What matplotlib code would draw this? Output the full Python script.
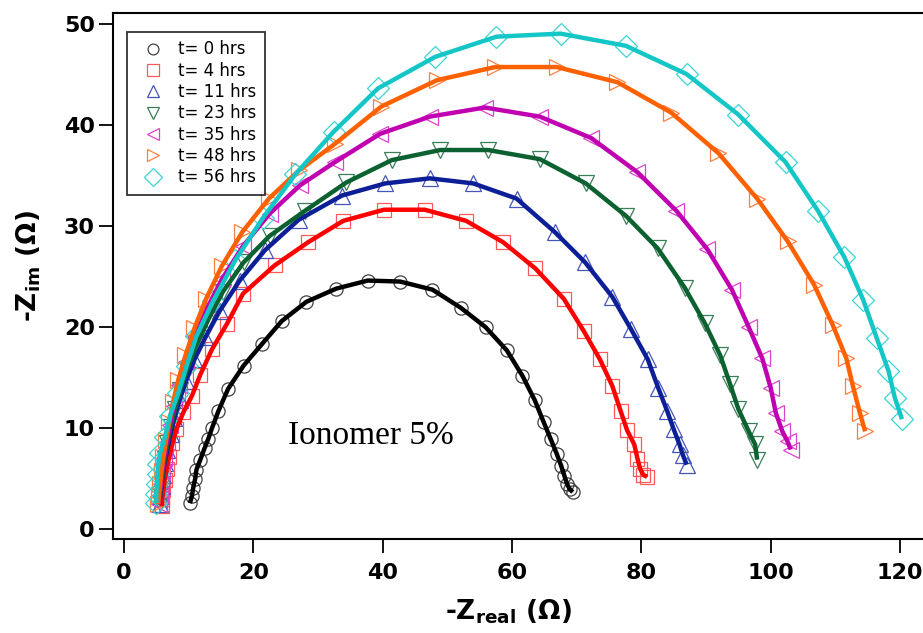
import matplotlib
matplotlib.use("Agg")
import matplotlib.pyplot as plt

plt.rcParams['font.family'] = ['DejaVu Sans']
plt.rcParams['mathtext.fontset'] = 'dejavusans'

labels = ["t= 0 hrs", "t= 4 hrs", "t= 11 hrs", "t= 23 hrs", "t= 35 hrs", "t= 48 hrs", "t= 56 hrs"]

x0 = [10.2, 10.5, 10.7, 11.0, 11.2, 11.8, 12.5, 13.0, 13.6, 14.6, 16.1, 18.5, 21.3, 24.4, 28.2, 32.8, 37.7,
      42.7, 47.7, 52.1, 55.9, 59.2, 61.6, 63.5, 64.9, 66.0, 66.9, 67.6, 68.1, 68.5, 68.9, 69.4]
y0 = [2.6, 3.3, 4.1, 5.0, 5.9, 6.9, 8.1, 8.9, 10.0, 11.7, 13.9, 16.2, 18.3, 20.6, 22.5, 23.8, 24.6,
      24.5, 23.7, 21.9, 20.0, 17.7, 15.2, 12.8, 10.6, 8.9, 7.5, 6.3, 5.3, 4.5, 4.0, 3.7]

x4 = [5.8, 5.9, 6.1, 6.3, 6.6, 7.0, 7.5, 8.1, 9.2, 10.5, 11.8, 13.6, 15.9, 18.4, 23.3, 28.5, 33.9, 40.2,
      46.5, 52.9, 58.6, 63.6, 68.0, 71.1, 73.6, 75.5, 76.8, 77.8, 78.9, 79.4, 79.8, 80.3, 80.9]
y4 = [2.3, 3.0, 3.9, 4.9, 6.0, 7.2, 8.5, 9.9, 11.6, 13.2, 15.3, 17.8, 20.3, 23.3, 26.1, 28.4, 30.5, 31.6,
      31.6, 30.5, 28.4, 25.8, 22.8, 19.6, 16.8, 14.2, 11.7, 9.8, 8.4, 7.0, 6.0, 5.4, 5.2]

x11 = [5.5, 5.6, 5.8, 6.0, 6.3, 6.7, 7.2, 7.8, 8.6, 9.6, 10.9, 12.6, 14.8, 17.9, 21.8, 27.0, 33.7, 40.4,
       47.3, 54.0, 60.7, 66.6, 71.3, 75.5, 78.4, 81.0, 82.6, 84.0, 85.0, 85.9, 86.4, 87.0]
y11 = [2.5, 3.3, 4.3, 5.4, 6.6, 7.9, 9.4, 11.0, 12.8, 14.7, 16.8, 19.0, 21.6, 24.6, 27.6, 30.6, 33.0, 34.2,
       34.7, 34.2, 32.7, 29.4, 26.4, 23.0, 19.8, 16.8, 14.0, 11.7, 9.9, 8.4, 7.4, 6.4]

x23 = [5.5, 5.6, 5.8, 6.0, 6.3, 6.7, 7.2, 7.9, 8.7, 9.8, 11.2, 13.0, 15.3, 18.5, 22.5, 28.0, 34.4, 41.4,
       48.9, 56.3, 64.3, 71.4, 77.6, 82.5, 86.7, 89.8, 92.2, 93.7, 95.0, 96.6, 97.6, 97.9]
y23 = [2.6, 3.5, 4.5, 5.7, 7.0, 8.5, 10.1, 11.9, 13.8, 15.9, 18.2, 20.7, 23.5, 26.4, 29.0, 31.5, 34.3, 36.5,
       37.5, 37.5, 36.6, 34.2, 31.0, 27.8, 23.9, 20.4, 17.2, 14.4, 11.9, 9.7, 8.4, 6.9]

x35 = [5.4, 5.5, 5.7, 5.9, 6.2, 6.6, 7.1, 7.7, 8.5, 9.6, 11.0, 12.8, 15.2, 18.4, 22.5, 27.2, 32.6, 39.6,
       47.3, 55.8, 64.3, 72.2, 79.4, 85.4, 90.2, 94.0, 96.6, 98.7, 100.0, 100.8, 101.8, 102.6, 103.1]
y35 = [2.5, 3.4, 4.5, 5.7, 7.1, 8.6, 10.3, 12.2, 14.3, 16.6, 19.1, 21.8, 24.8, 28.0, 31.2, 34.0, 36.3, 39.1,
       40.8, 41.7, 40.8, 38.7, 35.3, 31.5, 27.7, 23.7, 20.0, 16.9, 14.0, 11.5, 9.7, 8.7, 7.9]

x48 = [5.3, 5.4, 5.6, 5.8, 6.1, 6.5, 7.0, 7.6, 8.4, 9.5, 10.9, 12.7, 15.1, 18.3, 22.4, 27.1, 32.6, 39.8,
       48.4, 57.4, 66.9, 76.3, 84.6, 91.9, 97.9, 102.6, 106.7, 109.6, 111.7, 112.7, 113.8, 114.6]
y48 = [2.5, 3.4, 4.5, 5.8, 7.2, 8.8, 10.6, 12.6, 14.8, 17.2, 19.9, 22.8, 26.0, 29.4, 32.7, 35.5, 38.1, 41.8,
       44.4, 45.7, 45.7, 44.2, 41.2, 37.2, 32.7, 28.5, 24.2, 20.2, 16.9, 14.2, 11.5, 9.7]

x56 = [5.0, 5.0, 5.1, 5.2, 5.3, 5.6, 6.3, 7.1, 8.4, 9.7, 11.2, 13.8, 17.2, 21.5, 26.5, 32.4, 39.3, 48.1,
       57.6, 67.5, 77.6, 87.0, 95.0, 102.3, 107.3, 111.4, 114.3, 116.4, 118.2, 119.2, 120.3]
y56 = [2.6, 3.5, 4.5, 5.5, 6.5, 7.6, 9.1, 11.2, 13.5, 16.2, 19.1, 22.6, 26.6, 30.8, 35.1, 39.3, 43.6, 46.7,
       48.7, 49.0, 47.8, 45.0, 41.0, 36.3, 31.5, 26.9, 22.7, 18.9, 15.7, 13.0, 10.9]

xs = [x0, x4, x11, x23, x35, x48, x56]
ys = [y0, y4, y11, y23, y35, y48, y56]

line_colors = ['#000000', '#ff0000', '#0d1f96', '#0b6130', '#c000b0', '#ff6000', '#14c6c6']
marker_colors = ['#404040', '#ff5a5a', '#4455bb', '#3c7d5a', '#dd44cc', '#ff7f40', '#3cd4d4']
markers = ['o', 's', '^', 'v', '<', '>', 'D']
msizes = [9.5, 10.5, 11, 11, 11, 11, 11]

fig = plt.figure(figsize=(9.23, 6.33), dpi=100)
ax = fig.add_axes([113/923, 93.7/633, 1 - 113/923, 526.3/633])

handles = []
for i in range(7):
    h, = ax.plot(xs[i], ys[i], linestyle='none', marker=markers[i], markersize=msizes[i],
                 markerfacecolor='none', markeredgecolor=marker_colors[i], markeredgewidth=0.9,
                 label=labels[i], zorder=2)
    handles.append(h)
for i in range(7):
    ax.plot(xs[i], ys[i], color=line_colors[i], linewidth=3.2, zorder=3, solid_capstyle='butt')

ax.set_xlim(-1.7, 123.55)
ax.set_ylim(-0.97, 51.04)
ax.set_xticks([0, 20, 40, 60, 80, 100, 120])
ax.set_yticks([0, 10, 20, 30, 40, 50])
ax.spines['right'].set_visible(False)
for s in ['left', 'bottom', 'top']:
    ax.spines[s].set_linewidth(1.5)
ax.tick_params(direction='out', length=10, width=1.3, labelsize=16)
ax.tick_params(axis='x', pad=7)
ax.tick_params(axis='y', pad=3)
for lab in ax.get_xticklabels() + ax.get_yticklabels():
    lab.set_fontweight('bold')

ax.set_xlabel(r'-Z$_{\mathbf{real}}$ ($\mathbf{\Omega}$)', fontsize=19, fontweight='bold')
ax.set_ylabel(r'-Z$_{\mathbf{im}}$ ($\mathbf{\Omega}$)', fontsize=19, fontweight='bold')
ax.xaxis.set_label_coords(0.488, -0.11)
ax.yaxis.set_label_coords(-0.087, 0.52)

ax.text(25.4, 8.4, 'Ionomer 5%', family='Liberation Serif', fontsize=24, ha='left', va='baseline')

leg = fig.legend(handles=handles, loc='upper left', bbox_to_anchor=(127/923, 1 - 32/633),
                 frameon=True, fancybox=False, fontsize=12, handlelength=2.1, handletextpad=0.46,
                 labelspacing=0.2, borderpad=0.5, borderaxespad=0, markerscale=0.82)
leg.get_frame().set_edgecolor('black')
leg.get_frame().set_linewidth(1.3)

fig.savefig('out.png', dpi=100)
